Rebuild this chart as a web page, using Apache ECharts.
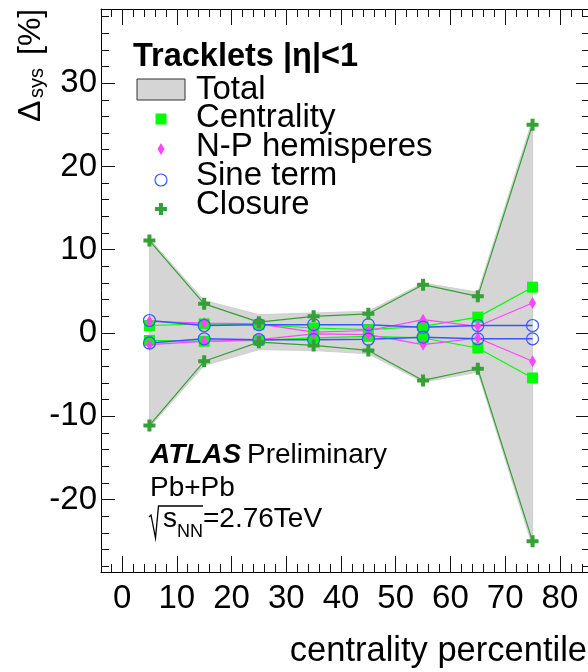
<!DOCTYPE html>
<html>
<head>
<meta charset="utf-8">
<title>Tracklets systematic uncertainties</title>
<script src="https://cdn.jsdelivr.net/npm/echarts@6/dist/echarts.min.js"></script>
<style>
  html, body { margin: 0; padding: 0; background: #fff; }
  #chart { width: 588px; height: 672px; }
</style>
</head>
<body>
<div id="chart"></div>
<script>
// Centrality bin centres (percentile)
const centralityPct = [5, 15, 25, 35, 45, 55, 65, 75];

// Systematic uncertainties in percent, upper and lower edges
const totalUp        = [11.3, 3.9, 2.2, 2.4, 2.6, 6.0, 4.9, 25.6];
const totalDown      = [-11.3, -3.9, -2.0, -2.1, -2.5, -5.9, -4.7, -25.6];
const centralityUp   = [0.9, 1.1, 1.0, 0.6, 0.4, 0.8, 1.9, 5.5];
const centralityDown = [-0.9, -1.0, -0.9, -0.6, -0.4, -0.6, -1.8, -5.4];
const npUp           = [1.4, 1.2, 1.1, 0.1, 0.3, 1.6, 0.8, 3.6];
const npDown         = [-1.4, -1.0, -0.8, -0.1, -0.2, -1.4, -0.6, -3.4];
const sineUp         = [1.5, 0.9, 1.0, 1.0, 1.0, 0.7, 0.9, 0.9];
const sineDown       = [-1.2, -0.7, -0.8, -0.8, -0.75, -0.5, -0.7, -0.7];
const closureUp      = [11.1, 3.5, 1.3, 2.0, 2.3, 5.8, 4.4, 25.0];
const closureDown    = [-11.1, -3.4, -1.1, -1.5, -2.1, -5.7, -4.3, -25.0];

// Axis ticks
const xMajorTicks = [0, 10, 20, 30, 40, 50, 60, 70, 80];
const xMinorTicks = [-2, 2, 4, 6, 8, 12, 14, 16, 18, 22, 24, 26, 28, 32, 34, 36, 38,
                     42, 44, 46, 48, 52, 54, 56, 58, 62, 64, 66, 68, 72, 74, 76, 78, 82, 84];
const yMajorTicks = [-20, -10, 0, 10, 20, 30];
const yMinorTicks = [-28, -26, -24, -22, -18, -16, -14, -12, -8, -6, -4, -2, 2, 4, 6, 8,
                     12, 14, 16, 18, 22, 24, 26, 28, 32, 34, 36, 38];

const X_MIN = -3.85, X_MAX = 85.5;
const Y_MIN = -28.7, Y_MAX = 38.9;

const FONT = '"Liberation Sans", Arial, Helvetica, sans-serif';

const COLORS = {
  band: '#d5d5d5',
  centrality: '#00ff00',
  np: '#ff44ff',
  sine: '#3458ff',
  closure: '#35a035'
};

const SYM_DIAMOND = 'path://M4,0L8,8L4,16L0,8Z';
const SYM_CROSS = 'path://M4,0H8V4H12V8H8V12H4V8H0V4H4Z';

function pairs(ys) {
  return centralityPct.map((x, i) => [x, ys[i]]);
}

function xAxisDef(position, ticks, len, labels, line) {
  return {
    type: 'value', gridIndex: 0, position: position,
    min: X_MIN, max: X_MAX,
    axisLine: { show: line, onZero: false, lineStyle: { color: '#000', width: 1 } },
    axisTick: { show: true, inside: true, length: len, customValues: ticks,
                lineStyle: { color: '#111', width: 1 } },
    axisLabel: { show: labels, customValues: ticks, margin: 10,
                 fontFamily: FONT, fontSize: 33, color: '#000' },
    splitLine: { show: false },
    minorTick: { show: false }
  };
}

function yAxisDef(position, ticks, len, labels, line) {
  return {
    type: 'value', gridIndex: 0, position: position,
    min: Y_MIN, max: Y_MAX,
    axisLine: { show: line, onZero: false, lineStyle: { color: '#000', width: 1 } },
    axisTick: { show: true, inside: true, length: len, customValues: ticks,
                lineStyle: { color: '#111', width: 1 } },
    axisLabel: { show: labels, customValues: ticks, margin: 4,
                 fontFamily: FONT, fontSize: 33, color: '#000' },
    splitLine: { show: false },
    minorTick: { show: false }
  };
}

function lineSeries(name, ys, color, symbol, size, filled, width) {
  return {
    type: 'line', name: name, xAxisIndex: 0, yAxisIndex: 0,
    data: pairs(ys),
    symbol: symbol, symbolSize: size,
    showAllSymbol: true,
    lineStyle: { color: color, width: width || 1.2 },
    itemStyle: filled
      ? { color: color, borderWidth: 0 }
      : { color: 'rgba(0,0,0,0)', borderColor: color, borderWidth: 1.2 },
    emphasis: { disabled: true },
    animation: false,
    z: 3
  };
}

// Total uncertainty drawn as a filled polygon between upper and lower edges
const bandSeries = {
  type: 'custom', name: 'Total', xAxisIndex: 0, yAxisIndex: 0,
  data: [[centralityPct[0], 0]],
  renderItem: function (params, api) {
    const pts = [];
    for (let i = 0; i < centralityPct.length; i++) {
      pts.push(api.coord([centralityPct[i], totalUp[i]]));
    }
    for (let i = centralityPct.length - 1; i >= 0; i--) {
      pts.push(api.coord([centralityPct[i], totalDown[i]]));
    }
    return {
      type: 'polygon',
      shape: { points: pts },
      style: { fill: COLORS.band, stroke: '#cfcfcf', lineWidth: 1 }
    };
  },
  animation: false,
  silent: true,
  z: 1
};

const series = [
  bandSeries,
  lineSeries('Centrality', centralityUp, COLORS.centrality, 'rect', 11, true),
  lineSeries('Centrality', centralityDown, COLORS.centrality, 'rect', 11, true),
  lineSeries('N-P hemisperes', npUp, COLORS.np, SYM_DIAMOND, [7, 12], true),
  lineSeries('N-P hemisperes', npDown, COLORS.np, SYM_DIAMOND, [7, 12], true),
  lineSeries('Sine term', sineUp, COLORS.sine, 'circle', 12, false, 1.5),
  lineSeries('Sine term', sineDown, COLORS.sine, 'circle', 12, false, 1.5),
  lineSeries('Closure', closureUp, COLORS.closure, SYM_CROSS, 12, true),
  lineSeries('Closure', closureDown, COLORS.closure, SYM_CROSS, 12, true)
];

// Legend block, drawn as graphic elements
const LEG_X = 161, TXT_X = 196, FS = 33;
const legendRows = [
  { label: 'Total', base: 101 },
  { label: 'Centrality', base: 129 },
  { label: 'N-P hemisperes', base: 158 },
  { label: 'Sine term', base: 187 },
  { label: 'Closure', base: 216 }
];

function txt(text, x, baseline, size, opts) {
  opts = opts || {};
  return {
    type: 'text', x: x, y: baseline - size * 0.34, silent: true, z: 100,
    style: {
      text: text,
      font: (opts.style || '') + ' ' + (opts.weight || 'normal') + ' ' + size + 'px ' + FONT,
      fill: '#000',
      align: opts.align || 'left', textAlign: opts.align || 'left',
      verticalAlign: 'middle', textVerticalAlign: 'middle'
    }
  };
}

const graphics = [];
graphics.push(txt('Tracklets |η|<1', 133, 68, 32.5, { weight: 'bold' }));
graphics.push({
  type: 'rect', z: 100, silent: true,
  shape: { x: 137, y: 79, width: 48, height: 21 },
  style: { fill: COLORS.band, stroke: '#333', lineWidth: 1 }
});
graphics.push({
  type: 'rect', z: 100, silent: true,
  shape: { x: LEG_X - 5.5, y: 119 - 5.5, width: 11, height: 11 },
  style: { fill: COLORS.centrality }
});
graphics.push({
  type: 'polygon', z: 100, silent: true,
  shape: { points: [[LEG_X, 149 - 6], [LEG_X + 3.5, 149], [LEG_X, 149 + 6], [LEG_X - 3.5, 149]] },
  style: { fill: COLORS.np }
});
graphics.push({
  type: 'circle', z: 100, silent: true,
  shape: { cx: LEG_X, cy: 180, r: 6 },
  style: { fill: 'none', stroke: COLORS.sine, lineWidth: 1.2 }
});
graphics.push({
  type: 'polygon', z: 100, silent: true,
  shape: { points: [[-2, -6], [2, -6], [2, -2], [6, -2], [6, 2], [2, 2], [2, 6], [-2, 6],
                    [-2, 2], [-6, 2], [-6, -2], [-2, -2]].map(p => [LEG_X + p[0], 209 + p[1]]) },
  style: { fill: COLORS.closure }
});
legendRows.forEach(r => graphics.push(txt(r.label, TXT_X, r.base, FS)));

// Experiment label
graphics.push(txt('ATLAS', 150, 465, 28, { weight: 'bold', style: 'italic' }));
graphics.push(txt('Preliminary', 247, 465, 28));
graphics.push(txt('Pb+Pb', 150, 498, 28));
graphics.push({
  type: 'polyline', z: 100, silent: true,
  shape: { points: [[149, 517], [151, 515], [155.5, 538], [158.5, 506], [203, 506]] },
  style: { stroke: '#000', lineWidth: 1.3, fill: 'none' }
});
graphics.push(txt('s', 163, 529, 28));
graphics.push(txt('NN', 177, 538, 18));
graphics.push(txt('=2.76TeV', 203, 529, 28));

// Axis titles
graphics.push(txt('centrality percentile', 587, 663, 34.5, { align: 'right' }));
graphics.push({
  type: 'group', x: 42, y: 122, rotation: Math.PI / 2, silent: true, z: 100,
  children: [
    txt('Δ', 0, 0, 32),
    txt('sys', 24, 2, 20),
    txt('[%]', 67, 0, 32)
  ]
});

const chart = echarts.init(document.getElementById('chart'), null, { renderer: 'canvas' });
chart.setOption({
  animation: false,
  backgroundColor: '#fff',
  grid: { left: 101, right: -2, top: 9, bottom: 100, containLabel: false, outerBoundsMode: 'none' },
  xAxis: [
    xAxisDef('bottom', xMajorTicks, 16, true, true),
    xAxisDef('bottom', xMinorTicks, 8, false, false),
    xAxisDef('top', xMajorTicks, 16, false, true),
    xAxisDef('top', xMinorTicks, 8, false, false)
  ],
  yAxis: [
    yAxisDef('left', yMajorTicks, 14, true, true),
    yAxisDef('left', yMinorTicks, 8, false, false),
    yAxisDef('right', yMajorTicks, 14, false, true),
    yAxisDef('right', yMinorTicks, 8, false, false)
  ],
  series: series,
  graphic: graphics
});
</script>
</body>
</html>
